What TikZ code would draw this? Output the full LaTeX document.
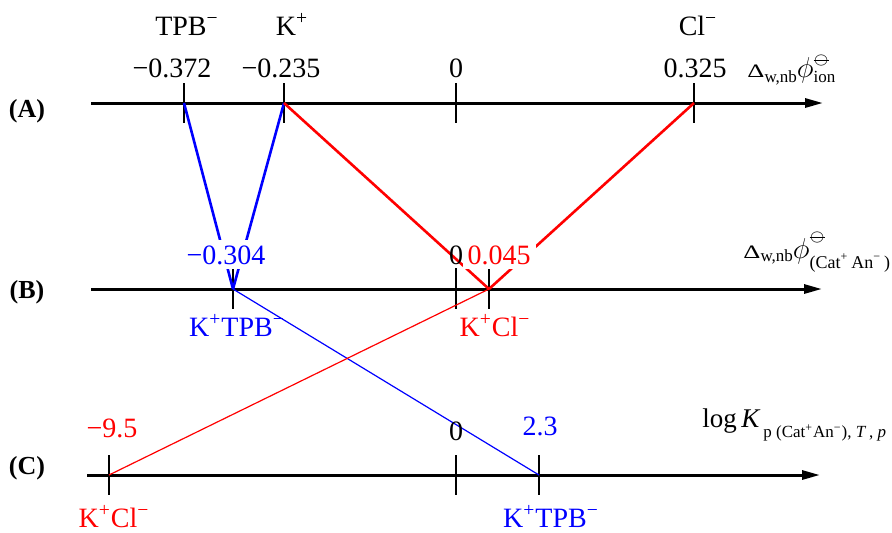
\documentclass[tikz,border=0pt]{standalone}
\usepackage{fontspec}
\setmainfont{Liberation Serif}
\usepackage{graphicx}
\usetikzlibrary{arrows.meta}
\newcommand{\fsz}[1]{\fontsize{#1}{#1}\selectfont}
\newcommand{\plim}{\ooalign{\hfil$\bigcirc$\hfil\cr\hfil\rule[.21em]{1.25em}{.07em}\hfil\cr}}
\newcommand{\wDelta}{\scalebox{1.4}[1]{\fsz{9.5}Δ}}
\definecolor{myblue}{RGB}{0,0,255}
\definecolor{myred}{RGB}{255,0,0}
\begin{document}
\begin{tikzpicture}[x=0.5pt,y=-0.5pt,
  axis/.style={line width=1.5pt,-{Triangle[length=9pt,width=4.5pt]}},
  tickmark/.style={line width=1.2pt},
  thickb/.style={draw=myblue,line width=1.3pt},
  thickr/.style={draw=myred,line width=1.3pt},
  thinb/.style={draw=myblue,line width=0.6pt},
  thinr/.style={draw=myred,line width=0.6pt},
  lbl/.style={anchor=base,inner sep=0pt,font=\fsz{14}},
  numbox/.style={anchor=base,fill=white,inner sep=2.5pt,font=\fsz{14}},
  panel/.style={anchor=base,inner sep=0pt,font=\fsz{13}\bfseries},
  axlbl/.style={anchor=base west,inner sep=0pt},
]
\useasboundingbox (0,0) rectangle (892,532);

% axes
\coordinate (A0) at (91,103);  \coordinate (A1) at (823,103);
\coordinate (B0) at (91,289);  \coordinate (B1) at (822,289);
\coordinate (C0) at (87,475);  \coordinate (C1) at (820,475);
\draw[axis] (A0) -- (A1);
\draw[axis] (B0) -- (B1);
\draw[axis] (C0) -- (C1);

% tick points
\coordinate (aTPB) at (184,103);
\coordinate (aK) at (284,103);
\coordinate (aZ) at (456,103);
\coordinate (aCl) at (694,103);
\coordinate (bKTPB) at (233,289);
\coordinate (bZ) at (456,289);
\coordinate (bKCl) at (489,289);
\coordinate (cKCl) at (109,475);
\coordinate (cZ) at (456,475);
\coordinate (cKTPB) at (539,475);

\foreach \p in {aTPB,aK,aZ,aCl,cKCl,cZ,cKTPB}
  \draw[tickmark] ([yshift=10pt]\p) -- ([yshift=-10pt]\p);
\foreach \p in {bKTPB,bZ,bKCl}
  \draw[tickmark] ([yshift=10.5pt]\p) -- ([yshift=-10pt]\p);

% connectors
\draw[thickb] (aTPB) -- (bKTPB);
\draw[thickb] (aK) -- (bKTPB);
\draw[thickr] (aK) -- (bKCl);
\draw[thickr] (aCl) -- (bKCl);
\draw[thinb] (bKTPB) -- (cKTPB);
\draw[thinr] (bKCl) -- (cKCl);

% panel labels
\node[panel] (pA) at (27,117) {(A)};
\node[panel] (pB) at (27,298) {(B)};
\node[panel] (pC) at (27,474) {(C)};

% row A labels
\node[lbl] (sTPB) at (187,35) {TPB\textsuperscript{−}};
\node[lbl] (sK) at (292,35) {K\textsuperscript{+}};
\node[lbl] (sCl) at (698,35) {Cl\textsuperscript{−}};
\node[lbl] (nA1) at (172,77) {−0.372};
\node[lbl] (nA2) at (281,77) {−0.235};
\node[lbl] (nA3) at (456,77) {0};
\node[lbl] (nA4) at (695,77) {0.325};
\node[axlbl] (axA) at (747,77) {\wDelta\raisebox{-2.5pt}{\fsz{8.5}w,nb}\fsz{13.5}$\phi$\rlap{\raisebox{7pt}{\fsz{6}\plim}}\raisebox{-2.5pt}{\fsz{8.5}ion}};

% row B labels
\node[numbox,text=myblue] (nB1) at (226,264) {−0.304};
\node[lbl] (nB2) at (456,264) {0};
\node[numbox,text=myred] (nB3) at (499,264) {0.045};
\node[lbl,text=myblue] (sB1) at (237,336) {K\textsuperscript{+}TPB\textsuperscript{−}};
\node[lbl,text=myred] (sB2) at (495,336) {K\textsuperscript{+}Cl\textsuperscript{−}};
\node[axlbl] (axB) at (743,258) {\wDelta\raisebox{-1.5pt}{\fsz{8.5}w,nb}\fsz{13.5}$\phi$\rlap{\raisebox{9pt}{\fsz{6}\plim}}\raisebox{-5pt}{\fsz{9}(Cat\textsuperscript{+}\,An\textsuperscript{−}\,)}};

% row C labels
\node[lbl,text=myred] (nC1) at (112,437) {−9.5};
\node[lbl] (nC2) at (456,440) {0};
\node[lbl,text=myblue] (nC3) at (540,435) {2.3};
\node[lbl,text=myred] (sC1) at (114,527) {K\textsuperscript{+}Cl\textsuperscript{−}};
\node[lbl,text=myblue] (sC2) at (551,527) {K\textsuperscript{+}TPB\textsuperscript{−}};
\node[axlbl] (axC) at (702,427) {\fsz{13.5}log\,\textit{K}\raisebox{-5pt}{\fsz{8.5}\,p (Cat\textsuperscript{+}An\textsuperscript{−}), \textit{T}\,, \textit{p}}};
\end{tikzpicture}
\end{document}
